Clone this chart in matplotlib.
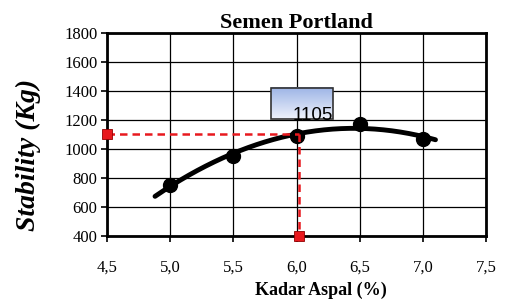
import numpy as np
import matplotlib
matplotlib.use("Agg")
import matplotlib.pyplot as plt
from matplotlib.patches import Rectangle
import matplotlib.colors as mcolors

kadar = [5.0, 5.5, 6.0, 6.5, 7.0]
stability = [752, 955, 1090, 1175, 1072]
target_x = 6.02
target_y = 1105
label_text = "1105"
xticks = [4.5, 5.0, 5.5, 6.0, 6.5, 7.0, 7.5]
xticklabels = ["4,5", "5,0", "5,5", "6,0", "6,5", "7,0", "7,5"]
yticks = [400, 600, 800, 1000, 1200, 1400, 1600, 1800]

serif = ["Liberation Serif", "DejaVu Serif"]

fig = plt.figure(figsize=(5.06, 2.99), dpi=100)
ax = fig.add_axes([0.2115, 0.2107, 0.749, 0.679])
ax.set_xlim(4.5, 7.5)
ax.set_ylim(400, 1800)
ax.set_xticks(xticks)
ax.set_xticklabels(xticklabels, family=serif, fontsize=12)
ax.set_yticks(yticks)
ax.set_yticklabels([str(v) for v in yticks], family=serif, fontsize=12)
ax.grid(True, color="black", linewidth=0.9)
ax.set_axisbelow(True)
for s in ax.spines.values():
    s.set_linewidth(2)
ax.tick_params(axis="both", direction="out", length=4, width=1.2, pad=3)
ax.tick_params(axis="x", pad=13)

# trend line (quadratic fit)
coef = np.polyfit(kadar, stability, 2)
xs = np.linspace(4.88, 7.1, 200)
ax.plot(xs, np.polyval(coef, xs), color="black", linewidth=3.5, zorder=3,
        solid_capstyle="round")
ax.plot(kadar, stability, "o", color="black", markersize=10, zorder=4)

# target dashed lines
ax.plot([4.5, target_x], [target_y, target_y], color="#e8191e", linestyle=(0, (3, 2)),
        linewidth=1.8, zorder=5, clip_on=False)
ax.plot([target_x, target_x], [target_y, 400], color="#e8191e", linestyle=(0, (3, 2)),
        linewidth=1.8, zorder=5, clip_on=False)
ax.plot([4.5, target_x], [target_y, 400], "s", color="#e8191e", markersize=7,
        markeredgecolor="#900000", markeredgewidth=0.6, zorder=6, clip_on=False,
        linestyle="none")

# label box with gradient
grad = np.linspace(0, 1, 64).reshape(-1, 1)
cmap = mcolors.LinearSegmentedColormap.from_list("g", ["#9db4e6", "#eef2fb"])
ax.imshow(grad, extent=[5.80, 6.29, 1207, 1421], aspect="auto", cmap=cmap,
          zorder=5, origin="upper")
ax.add_patch(Rectangle((5.80, 1207), 0.49, 214, fill=False, edgecolor="#333333",
                       linewidth=1.2, zorder=6))
ax.text(6.285, 1170, label_text, ha="right", va="bottom", fontsize=13.5,
        family=["Liberation Sans", "DejaVu Sans"], zorder=7)
ax.set_xlim(4.5, 7.5)
ax.set_ylim(400, 1800)

ax.set_title("Semen Portland", family=serif, fontweight="bold", fontsize=16, pad=2)
ax.set_xlabel("Kadar Aspal (%)", family=serif, fontweight="bold", fontsize=13)
ax.xaxis.set_label_coords(0.565, -0.225)
ax.set_ylabel("Stability (Kg)", family=serif, fontweight="bold", style="italic",
              fontsize=20)
ax.yaxis.set_label_coords(-0.175, 0.40)

fig.savefig("out.png", dpi=100)
